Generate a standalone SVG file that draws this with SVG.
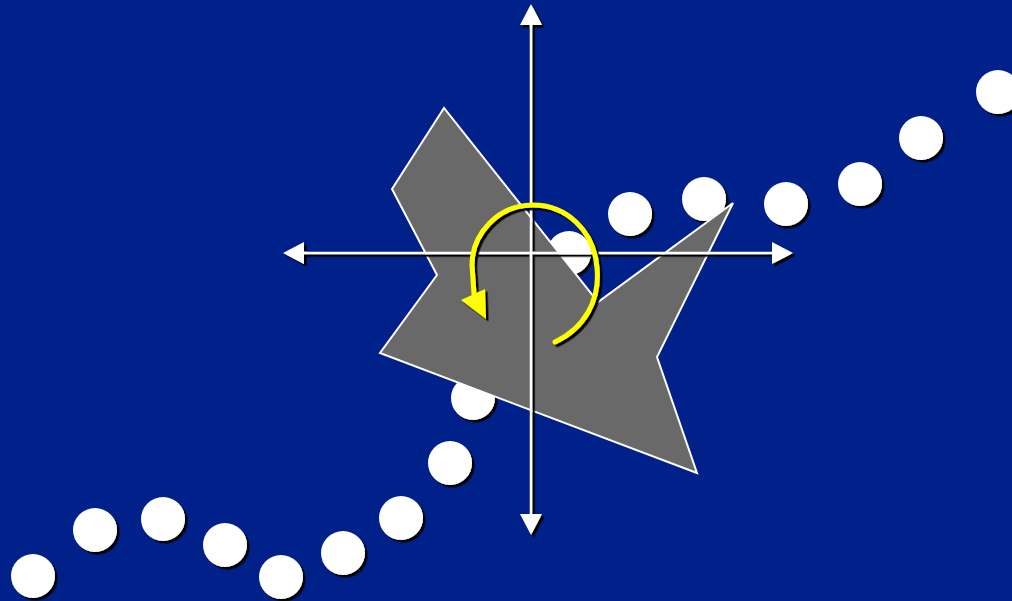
<svg xmlns="http://www.w3.org/2000/svg" width="1012" height="601" viewBox="0 0 1012 601">
<defs>
<style>
.dot{fill:#ffffff;filter:url(#sh)}
.axis{stroke:#ffffff;stroke-width:2.5;fill:none}
.head{fill:#ffffff}
</style>
<filter id="sh" x="-20%" y="-20%" width="140%" height="140%">
<feDropShadow dx="2.5" dy="2.5" stdDeviation="0" flood-color="#000000" flood-opacity="1"/>
</filter>
</defs>
<rect x="0" y="0" width="1012" height="601" fill="#00208A"/>
<g id="dots">
<circle class="dot" cx="33" cy="576" r="22"/>
<circle class="dot" cx="95" cy="530" r="22"/>
<circle class="dot" cx="163" cy="519" r="22"/>
<circle class="dot" cx="225" cy="545" r="22"/>
<circle class="dot" cx="281" cy="577" r="22"/>
<circle class="dot" cx="343" cy="553" r="22"/>
<circle class="dot" cx="401" cy="518" r="22"/>
<circle class="dot" cx="450" cy="463" r="22"/>
<circle class="dot" cx="473" cy="398" r="22"/>
<circle class="dot" cx="569" cy="253" r="22"/>
<circle class="dot" cx="630" cy="214" r="22"/>
<circle class="dot" cx="704" cy="199" r="22"/>
<circle class="dot" cx="786" cy="204" r="22"/>
<circle class="dot" cx="860" cy="184" r="22"/>
<circle class="dot" cx="921" cy="138" r="22"/>
<circle class="dot" cx="998" cy="92" r="22"/>
</g>
<g id="shape">
<polygon points="444,108 392,189 437,275 380,353 697,473 657,357 733,203 598,302" fill="#696969" stroke="#ffffff" stroke-width="2" stroke-linejoin="miter"/>
</g>
<g id="connectors" filter="url(#sh)">
<line class="axis" x1="531" y1="22" x2="531" y2="518"/>
<polygon class="head" points="531,4 520,25 542,25"/>
<polygon class="head" points="531,535 520,514 542,514"/>
<line class="axis" x1="300" y1="253" x2="776" y2="253"/>
<polygon class="head" points="283,253 304,242 304,264"/>
<polygon class="head" points="793,253 772,242 772,264"/>
</g>
<g id="rotation" filter="url(#sh)">
<path d="M 555 342 C 585 328, 600 300, 597 268 C 594 230, 566 205, 533 205 C 497 205, 472 235, 472 265 L 474 294" fill="none" stroke="#ffff00" stroke-width="5" stroke-linecap="round"/>
<polygon points="461,300 485,289 486,319" fill="#ffff00"/>
</g>
</svg>
